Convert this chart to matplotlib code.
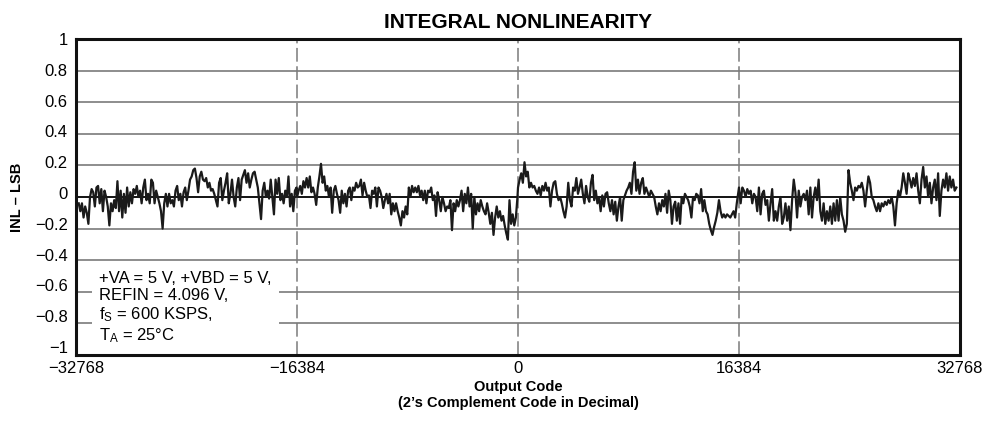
import numpy as np
import matplotlib
matplotlib.use("Agg")
import matplotlib.pyplot as plt
import matplotlib.transforms as mtransforms

plt.rcParams['font.family'] = ['Liberation Sans', 'DejaVu Sans']
plt.rcParams['mathtext.default'] = 'regular'

# INL (LSB) measured across the code range, one list per quarter of the range
inl_q1 = [-0.04, -0.09, -0.04, -0.13, -0.06, -0.10, -0.17, 0.00, 0.05, 0.03, -0.06, 0.06, 0.07, -0.04,
          0.05, -0.09, 0.04, 0.00, -0.06, -0.18, -0.04, -0.09, -0.02, -0.07, 0.10, -0.09, 0.04, -0.13,
          0.02, -0.10, 0.06, -0.06, 0.03, -0.04, 0.05, 0.02, 0.07, 0.00, 0.04, -0.04, 0.06, 0.11, -0.02,
          0.02, -0.04, 0.11, 0.09, -0.04, 0.04, 0.00, -0.04, -0.09, -0.20, -0.04, 0.02, -0.06, 0.02,
          -0.04, -0.02, -0.06, 0.04, 0.07, -0.02, 0.02, -0.06, 0.03, 0.06, -0.02, 0.04, 0.11, 0.13, 0.17,
          0.18, 0.12, 0.03, 0.13, 0.16, 0.11, 0.10, 0.12, 0.06, 0.09, 0.04, 0.05, 0.02, -0.02, -0.06,
          0.09, 0.12, -0.02, 0.04, 0.09, 0.15, -0.04, 0.02, 0.11, 0.00, -0.06, 0.06, 0.12, -0.02, 0.11,
          0.14, 0.17, 0.09, 0.15, 0.06, 0.11, 0.15, 0.16, 0.11, 0.06, -0.04, -0.14, 0.04, 0.09, 0.00,
          0.04, -0.01, 0.11, 0.00, -0.11, 0.11, 0.02, 0.12, -0.02, 0.02, -0.04, 0.04, 0.00, 0.13, -0.06,
          0.02, -0.09, 0.04, 0.06]
inl_q2 = [0.00, 0.04, 0.07, 0.02, 0.10, 0.06, 0.12, 0.06, 0.13, 0.03, 0.06, 0.02, -0.05, 0.06, 0.13,
          0.21, 0.09, 0.13, 0.04, 0.07, 0.00, 0.06, -0.10, 0.04, 0.07, 0.02, -0.02, -0.10, 0.04, -0.04,
          0.02, -0.06, 0.04, 0.06, -0.02, 0.06, 0.04, 0.09, 0.06, 0.07, 0.11, 0.01, 0.09, 0.04, 0.00,
          0.01, -0.07, 0.04, 0.02, 0.06, -0.06, 0.06, 0.04, 0.00, -0.07, -0.02, 0.02, -0.04, 0.02, -0.11,
          -0.04, -0.09, -0.04, -0.09, -0.13, -0.18, -0.09, -0.13, -0.06, -0.11, 0.06, 0.00, 0.07, 0.03,
          0.06, 0.03, 0.07, 0.01, 0.04, -0.02, 0.04, -0.04, 0.04, 0.03, 0.06, -0.02, 0.01, -0.12, 0.03,
          -0.02, -0.09, 0.00, -0.04, -0.09, -0.06, -0.07, -0.02, -0.21, -0.04, -0.09, -0.02, -0.06,
          -0.02, 0.04, -0.09, 0.02, -0.04, 0.06, -0.06, 0.02, -0.20, 0.00, -0.11, -0.04, -0.09, -0.02,
          -0.06, -0.09, -0.11, -0.04, -0.10, -0.17, -0.10, -0.24, -0.13, -0.06, -0.13, -0.09, -0.15,
          -0.12, -0.18, -0.23, -0.27, -0.02, -0.17, -0.11, -0.18, -0.13, 0.00]
inl_q3 = [0.06, 0.11, 0.15, 0.09, 0.22, 0.13, 0.16, 0.06, 0.09, 0.06, 0.07, 0.04, 0.02, 0.06, 0.01,
          0.07, 0.04, 0.09, 0.04, 0.06, -0.06, 0.04, 0.09, 0.10, 0.02, -0.02, 0.00, -0.04, -0.09, -0.13,
          -0.06, 0.09, -0.02, -0.06, 0.06, 0.04, 0.12, 0.02, 0.06, 0.11, 0.02, -0.04, 0.07, 0.00, -0.03,
          0.09, 0.14, -0.02, 0.04, -0.04, 0.00, -0.09, 0.01, -0.06, 0.02, 0.03, -0.04, -0.09, -0.02,
          -0.11, -0.03, -0.15, -0.06, 0.00, -0.15, -0.02, 0.01, 0.04, 0.06, 0.09, 0.02, 0.16, 0.22, 0.04,
          0.11, 0.02, 0.09, 0.12, 0.02, 0.06, 0.03, 0.00, 0.04, 0.02, 0.00, -0.06, -0.11, -0.04, -0.09,
          -0.02, -0.06, 0.02, -0.10, 0.04, -0.02, -0.17, -0.06, -0.03, -0.15, -0.04, -0.17, 0.00, -0.04,
          0.02, 0.00, -0.02, -0.06, -0.13, 0.00, -0.02, 0.02, 0.01, -0.04, 0.05, -0.09, -0.02, -0.09,
          -0.11, -0.17, -0.21, -0.24, -0.19, -0.15, -0.10, -0.02, -0.09, -0.13, -0.11, -0.13, -0.11,
          -0.12, -0.13, -0.11, -0.09, -0.13, -0.04, 0.03]
inl_q4 = [0.06, -0.04, 0.06, 0.04, 0.00, 0.05, 0.02, 0.04, -0.04, 0.02, 0.00, -0.09, 0.06, -0.11, 0.02,
          0.04, -0.05, -0.02, -0.15, -0.04, 0.05, -0.15, -0.09, -0.15, -0.06, 0.00, -0.17, -0.13, -0.04,
          -0.15, -0.06, -0.21, -0.02, 0.11, 0.03, -0.13, 0.04, -0.06, 0.00, 0.02, -0.02, 0.04, -0.11,
          0.06, -0.13, 0.00, 0.06, -0.02, 0.11, -0.09, -0.15, -0.04, -0.17, -0.09, -0.15, -0.06, -0.17,
          -0.04, -0.15, -0.02, -0.15, 0.00, -0.11, -0.15, -0.22, -0.17, 0.17, 0.09, 0.04, -0.02, 0.06,
          0.04, 0.07, 0.06, 0.09, 0.04, -0.06, 0.04, 0.13, 0.09, 0.00, -0.02, -0.06, -0.09, -0.04, -0.09,
          -0.04, -0.06, -0.03, -0.05, -0.02, -0.04, 0.00, -0.06, -0.18, -0.04, 0.04, 0.00, 0.06, 0.15,
          0.09, 0.02, 0.15, 0.11, 0.06, 0.12, 0.07, 0.15, 0.04, -0.04, 0.11, 0.19, 0.06, 0.13, 0.00,
          0.09, -0.04, 0.06, 0.11, -0.02, 0.15, -0.12, 0.04, 0.11, 0.06, 0.15, 0.04, 0.13, 0.06, 0.11,
          0.04, 0.06]

# first and last code of each quarter
q_start = [-32570, -16384, 0, 16384]
q_end = [-16420, -40, 16340, 32500]

xticks = [-32768, -16384, 0, 16384, 32768]
xtick_labels = ['\u221232768', '\u221216384', '0', '16384', '32768']
yticks = [-1, -0.8, -0.6, -0.4, -0.2, 0, 0.2, 0.4, 0.6, 0.8, 1]
ytick_labels = ['\u22121', '\u22120.8', '\u22120.6', '\u22120.4', '\u22120.2', '0',
                '0.2', '0.4', '0.6', '0.8', '1']

codes = np.concatenate([np.linspace(s, e, len(q))
                        for s, e, q in zip(q_start, q_end, [inl_q1, inl_q2, inl_q3, inl_q4])])
inl = np.concatenate([inl_q1, inl_q2, inl_q3, inl_q4])

fig = plt.figure(figsize=(9.85, 4.23), dpi=100)
ax = fig.add_axes([0.0772, 0.1608, 0.8974, 0.747])

# grid: gray horizontals, dark zero line, dashed verticals
for y in yticks[1:-1]:
    if y == 0:
        ax.axhline(y, color='black', lw=1.3, zorder=1)
    else:
        ax.axhline(y, color='#7a7a7a', lw=1.2, zorder=1)
for x in xticks[1:-1]:
    ax.axvline(x, color='#7a7a7a', lw=1.1, dashes=(9, 3), zorder=1)

ax.plot(codes, inl, color='#1a1a1a', lw=1.6, zorder=3)

ax.set_xlim(-32768, 32768)
ax.set_ylim(-1, 1)
ax.set_xticks(xticks)
ax.set_xticklabels(xtick_labels)
ax.set_yticks(yticks)
ax.set_yticklabels(ytick_labels)
ax.tick_params(length=0, labelsize=12)
ax.tick_params(axis='x', pad=4)
ax.tick_params(axis='y', pad=6)
# lower y labels creep up a little above their grid lines
for val, lbl in zip(yticks, ax.get_yticklabels()):
    shift = mtransforms.ScaledTranslation(0, (1 - val) * 0.04, fig.dpi_scale_trans)
    lbl.set_transform(lbl.get_transform() + shift)
for s in ax.spines.values():
    s.set_linewidth(2.2)
    s.set_color('#111111')
    s.set_zorder(5)

ax.set_title('INTEGRAL NONLINEARITY', fontsize=15, fontweight='bold', pad=8)
ax.set_xlabel('Output Code\n(2\u2019s Complement Code in Decimal)', fontsize=10.5,
              fontweight='bold', labelpad=3, linespacing=1.2)
ax.set_ylabel('INL \u2013 LSB', fontsize=10.5, fontweight='bold', labelpad=8)

conditions = ('+VA = 5 V, +VBD = 5 V,\nREFIN = 4.096 V,\n'
              'f$_{S}$ = 600 KSPS,\nT$_{A}$ = 25\u00b0C')
ax.text(0.026, 0.265, conditions, transform=ax.transAxes, fontsize=12,
        va='top', ha='left', linespacing=1.17, zorder=2,
        bbox=dict(facecolor='white', edgecolor='none', pad=5))

fig.savefig('out.png', dpi=100)
